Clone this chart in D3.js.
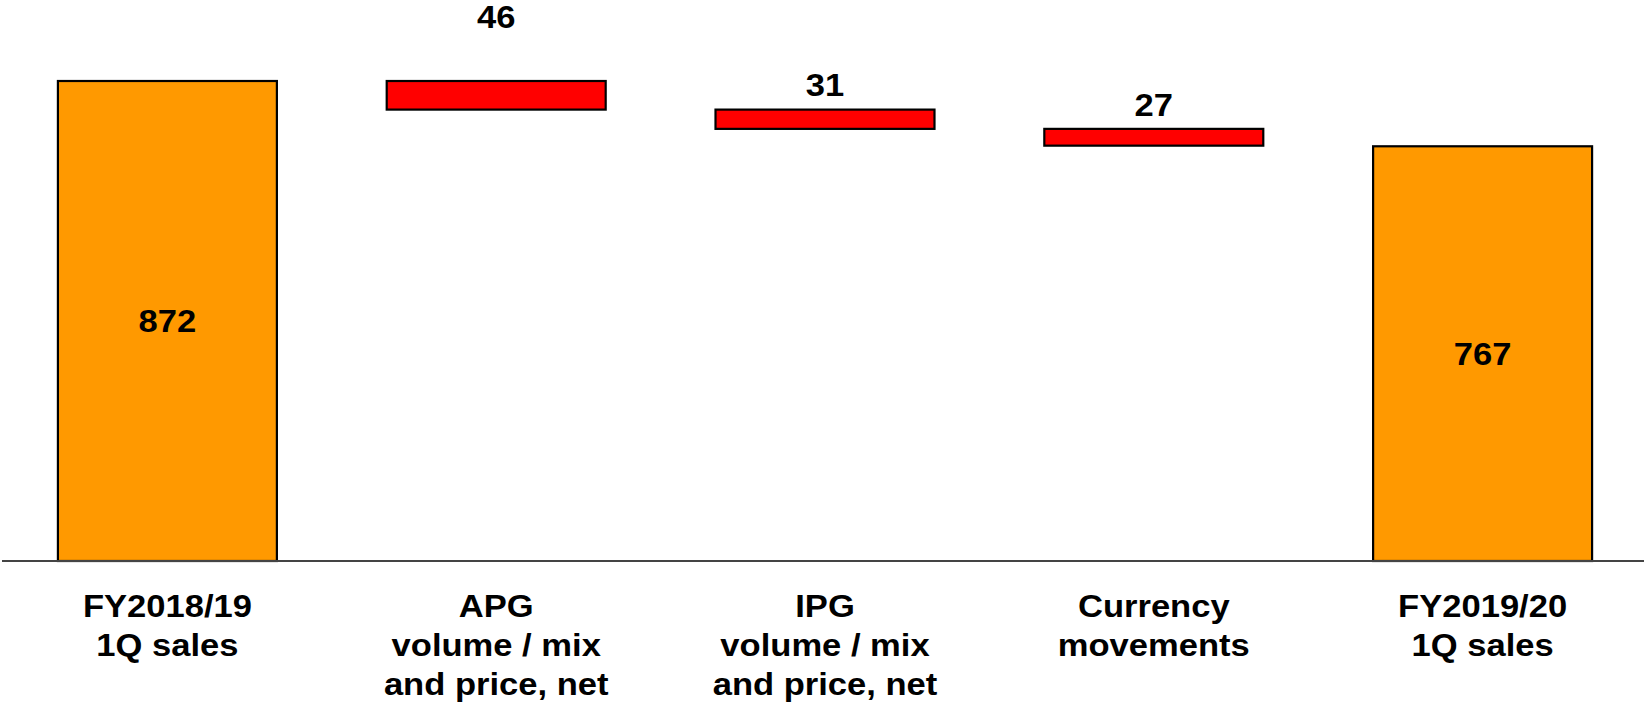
<!DOCTYPE html>
<html>
<head>
<meta charset="utf-8">
<script src="https://cdn.jsdelivr.net/npm/d3@7"></script>
<style>
  html, body { margin: 0; padding: 0; background: #fff; }
  svg { display: block; }
  text { font-family: "Liberation Sans", Arial, Helvetica, sans-serif; font-weight: bold; fill: #000; }
</style>
</head>
<body>
<svg id="chart" width="1644" height="707"></svg>
<script>
// ---- Data ----
const categories = [
  ["FY2018/19", "1Q sales"],
  ["APG", "volume / mix", "and price, net"],
  ["IPG", "volume / mix", "and price, net"],
  ["Currency", "movements"],
  ["FY2019/20", "1Q sales"]
];
const barTypes = ["total", "delta", "delta", "delta", "total"];
const values = [872, -46, -31, -27, 767];
const valueLabels = ["872", "46", "31", "27", "767"];

// ---- Layout ----
const W = 1644, H = 707;
const baseY = 561;
const labelGap = [0, 53, 14, 13, 0]; // gap between delta bar top and its label baseline

const svg = d3.select("#chart");

const keys = categories.map((c, i) => "c" + i);
const x = d3.scaleBand().domain(keys).range([3, 1647]).paddingInner(0.334).paddingOuter(0.167);
const y = d3.scaleLinear().domain([100, 872]).range([baseY, 81]);

// compute waterfall spans
let running = 0;
const bars = values.map((v, i) => {
  let lo, hi;
  if (barTypes[i] === "total") { lo = 100; hi = v; running = v; }
  else { const start = running; running = running + v; lo = Math.min(start, running); hi = Math.max(start, running); }
  return { key: keys[i], type: barTypes[i], lo, hi, label: valueLabels[i], i };
});

const colors = { total: "#FF9900", delta: "#FF0000" };

svg.selectAll("rect.bar").data(bars).enter().append("rect")
  .attr("class", "bar")
  .attr("x", d => x(d.key))
  .attr("width", x.bandwidth())
  .attr("y", d => y(d.hi))
  .attr("height", d => y(d.lo) - y(d.hi))
  .attr("fill", d => colors[d.type])
  .attr("stroke", "#000")
  .attr("stroke-width", 2.2);

// axis baseline
const axis = d3.axisBottom(x).tickSize(0).tickFormat("");
const gAxis = svg.append("g").attr("transform", `translate(0,${baseY})`).call(axis);
gAxis.select(".domain").remove();
svg.append("line")
  .attr("x1", 2).attr("x2", W).attr("y1", baseY).attr("y2", baseY)
  .attr("stroke", "#444").attr("stroke-width", 2);

// value labels
svg.selectAll("text.val").data(bars).enter().append("text")
  .attr("class", "val")
  .attr("text-anchor", "middle")
  .attr("font-size", 32)
  .attr("transform", d => {
    const cx = x(d.key) + x.bandwidth() / 2;
    const cy = d.type === "total" ? (y(d.hi) + y(d.lo)) / 2 + 11 : y(d.hi) - labelGap[d.i];
    return `translate(${cx},${cy}) scale(1.08,1)`;
  })
  .text(d => d.label);

// category labels
const catG = svg.selectAll("g.cat").data(categories).enter().append("g")
  .attr("class", "cat")
  .attr("transform", (d, i) => `translate(${x(keys[i]) + x.bandwidth() / 2},617)`);
catG.each(function(lines) {
  d3.select(this).selectAll("text").data(lines).enter().append("text")
    .attr("text-anchor", "middle")
    .attr("font-size", 32)
    .attr("transform", (t, j) => `translate(0,${j * 38.8}) scale(1.08,1)`)
    .text(t => t);
});
</script>
</body>
</html>
